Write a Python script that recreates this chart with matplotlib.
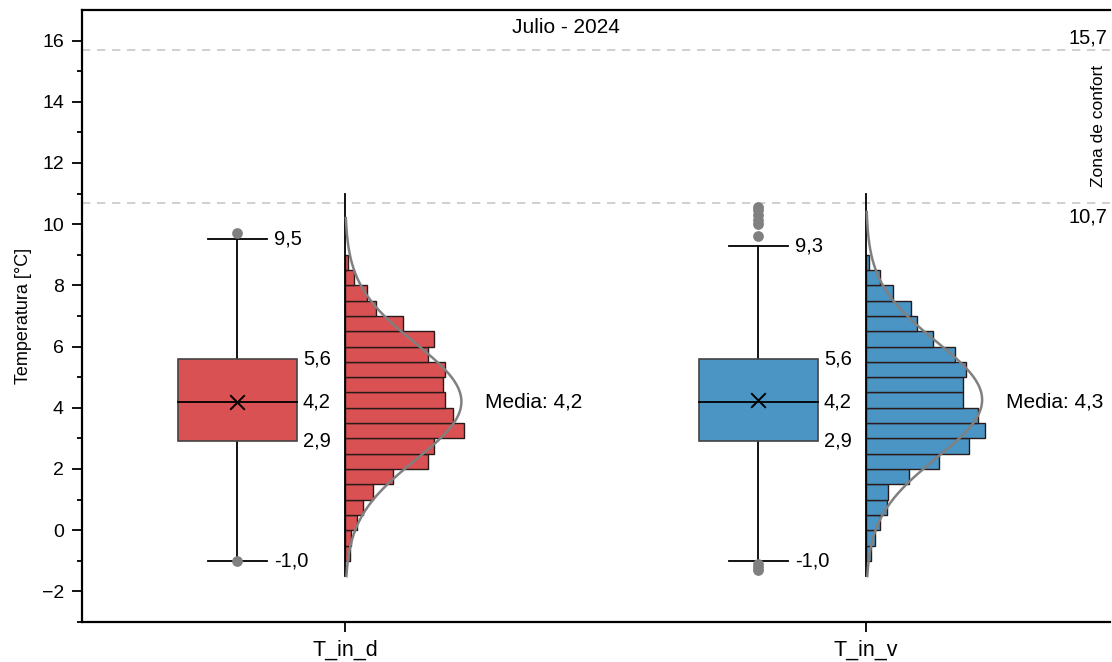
import numpy as np
import matplotlib
matplotlib.use("Agg")
import matplotlib.pyplot as plt

plt.rcParams['font.family'] = ['Liberation Sans', 'DejaVu Sans']

# Series and summary statistics
categories = ["T_in_d", "T_in_v"]
colors = ["#d95152", "#4a95c4"]
q1 = [2.9, 2.9]
median = [4.2, 4.2]
q3 = [5.6, 5.6]
whisker_low = [-1.0, -1.0]
whisker_high = [9.5, 9.3]
means = [4.2, 4.26]
std_devs = [1.9, 1.9]
outliers = [
    [9.7, -1.0],
    [9.6, 10.0, 10.15, 10.3, 10.45, 10.55, -1.1, -1.2, -1.3],
]
curve_ranges = [(-1.5, 10.2), (-1.5, 10.4)]

# Histogram bins (°C) and counts, bottom to top
bin_edges = np.arange(-1.0, 9.01, 0.5)
counts_d = [3, 4, 8, 12, 19, 32, 56, 60, 80, 73, 67, 66, 67, 56, 60, 39, 21, 15, 6, 2]
counts_v = [3, 6, 9, 14, 15, 29, 49, 69, 80, 75, 65, 65, 67, 60, 45, 34, 30, 18, 9, 2]
counts = [counts_d, counts_v]

comfort_low = 10.7
comfort_high = 15.7
title = "Julio - 2024"


def fmt(v):
    return f"{v:.1f}".replace(".", ",")


fig = plt.figure(figsize=(11.12, 6.62), dpi=100)
ax = fig.add_axes([0.0737, 0.0604, 0.9245, 0.9246])

box_offset = -0.207
box_width = 0.228
cap_width = 0.114
hist_scale = 0.228 / 80.0
label_fs = 14.5

for i, cat in enumerate(categories):
    bx = i + box_offset
    col = colors[i]
    # whiskers
    ax.plot([bx, bx], [whisker_low[i], q1[i]], color="black", lw=1.3, zorder=2)
    ax.plot([bx, bx], [q3[i], whisker_high[i]], color="black", lw=1.3, zorder=2)
    for w in (whisker_low[i], whisker_high[i]):
        ax.plot([bx - cap_width / 2, bx + cap_width / 2], [w, w], color="black", lw=1.3, zorder=2)
    # box
    ax.add_patch(plt.Rectangle((bx - box_width / 2, q1[i]), box_width, q3[i] - q1[i],
                               facecolor=col, edgecolor="#444444", lw=1.2, zorder=3))
    ax.plot([bx - box_width / 2, bx + box_width / 2], [median[i], median[i]], color="black", lw=1.3, zorder=4)
    ax.scatter([bx], [means[i]], marker="x", s=110, color="black", linewidths=1.4, zorder=5)
    ax.scatter([bx] * len(outliers[i]), outliers[i], s=45, color="#808080", zorder=5)

    # value labels
    tx_box = bx + box_width / 2 + 0.012
    tx_cap = bx + cap_width / 2 + 0.013
    for v in (q3[i], median[i], q1[i]):
        ax.text(tx_box, v, fmt(v), ha="left", va="center", fontsize=label_fs)
    for v in (whisker_high[i], whisker_low[i]):
        ax.text(tx_cap, v, fmt(v), ha="left", va="center", fontsize=label_fs)

    # histogram
    edges = bin_edges
    ax.barh(edges[:-1], np.array(counts[i]) * hist_scale, height=0.5, left=i, align="edge",
            color=col, edgecolor="#2a1a1a", lw=1.0, zorder=3)
    ax.plot([i, i], [-1.5, 11.0], color="black", lw=1.3, zorder=4)

    # normal curve
    n = sum(counts[i])
    y = np.linspace(curve_ranges[i][0], curve_ranges[i][1], 300)
    dens = n * 0.5 / (std_devs[i] * np.sqrt(2 * np.pi)) * np.exp(-0.5 * ((y - means[i]) / std_devs[i]) ** 2)
    ax.plot(i + dens * hist_scale, y, color="#808080", lw=1.8, zorder=5)

    ax.text(i + 0.269, median[i], "Media: " + fmt(means[i]), ha="left", va="center", fontsize=15)

# comfort zone
for v, va, dy in ((comfort_high, "bottom", 0.06), (comfort_low, "top", -0.15)):
    ax.axhline(v, color="#c8c8c8", ls=(0, (5, 4)), lw=1.2, zorder=1)
    ax.text(0.997, v + dy, fmt(v), transform=ax.get_yaxis_transform(), ha="right", va=va, fontsize=label_fs)
ax.text(0.989, (comfort_low + comfort_high) / 2, "Zona de confort", transform=ax.get_yaxis_transform(),
        rotation=90, ha="center", va="center", fontsize=12.5)

ax.text(0.471, 0.972, title, transform=ax.transAxes, ha="center", va="center", fontsize=15)

ax.set_xlim(-0.505, 1.468)
ax.set_ylim(-3, 17)
ax.set_xticks(range(len(categories)))
ax.set_xticklabels(categories, fontsize=15.5)
ax.set_yticks(np.arange(-2, 17, 2))
ax.set_yticklabels([f"{t}" if t >= 0 else f"\u2212{abs(t)}" for t in range(-2, 17, 2)], fontsize=14)
ax.set_yticks(np.arange(-3, 17, 2), minor=True)
ax.tick_params(axis="both", which="major", direction="out", length=7, width=1.3, pad=6)
ax.tick_params(axis="y", which="minor", direction="out", length=3.5, width=1.3)
ax.set_ylabel("Temperatura [°C]", fontsize=13, labelpad=7)
ax.spines["right"].set_visible(False)
for s in ("left", "bottom", "top"):
    ax.spines[s].set_linewidth(1.6)

fig.savefig("out.png", dpi=100)
